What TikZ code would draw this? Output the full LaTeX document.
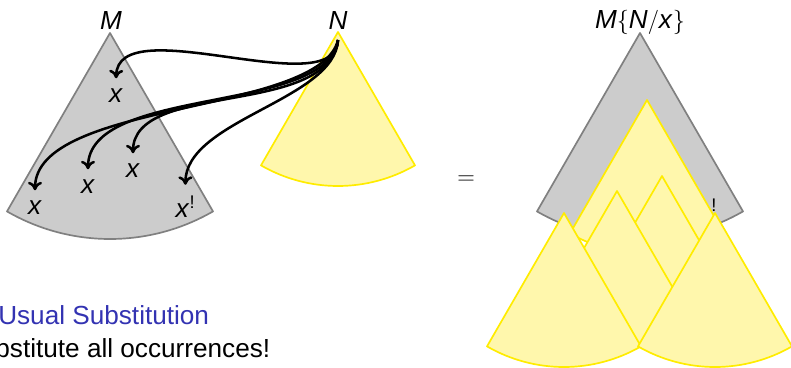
\documentclass[tikz,border=0pt]{standalone}
\usepackage{fontspec}
\setmainfont{Liberation Sans}
\usepackage{tikz}
\usetikzlibrary{arrows.meta}
\definecolor{termgray}{gray}{0.8}
\definecolor{termedge}{gray}{0.5}
\definecolor{argfill}{RGB}{255,247,172}
\definecolor{argedge}{RGB}{255,236,0}
\definecolor{structblue}{RGB}{51,51,178}

\begin{document}
\begin{tikzpicture}[x=0.025cm, y=-0.025cm,
    lbl/.style={font=\fontsize{18.6}{22}\selectfont, inner sep=0pt},
    msec/.style={fill=termgray, draw=termedge, line width=1.2pt, line join=round},
    nsec/.style={fill=argfill, draw=argedge, line width=1.2pt, line join=round},
    arr/.style={-{To[length=6pt, width=10pt]}, line width=1.8pt, shorten >=7.5pt},
]
    \useasboundingbox (0,0) rectangle (791,368);

    % Term M and argument N
    \path[msec] (110,33) -- ++(120:206) arc[start angle=120, end angle=60, radius=206] -- cycle;
    \path[nsec] (338,32) -- ++(120:154) arc[start angle=120, end angle=60, radius=154] -- cycle;
    \node[lbl] (mlab) at (111,21) {\textit{M}};
    \node[lbl] (nlab) at (338,21) {\textit{N}};
    \coordinate (nroot) at (338,40);

    % Occurrences of x
    \node[lbl] (x1) at (116,96) {\textit{x}};
    \node[lbl] (x2) at (133,171) {\textit{x}};
    \node[lbl] (x3) at (88,187) {\textit{x}};
    \node[lbl] (x4) at (35,208) {\textit{x}};
    \node[lbl, anchor=base] (x5) at (185.5,217) {\textit{x}\textsuperscript{!}};

    % Substitution arrows
    \draw[arr] (nroot) .. controls (336,105) and (117,8) .. (x1.north);
    \draw[arr] (nroot) .. controls (328,118) and (133,80) .. (x2.north);
    \draw[arr] (nroot) .. controls (328,115) and (88,85) .. (x3.north);
    \draw[arr] (nroot) .. controls (320,115) and (35,100) .. (x4.north);
    \draw[arr] (nroot) .. controls (335,100) and (185,120) .. (x5.north);

    \node[lbl] (eq) at (466,180) {$=$};

    % Result M{N/x}
    \node[lbl] (sublab) at (640,22) {\textit{M}$\{$\textit{N}$/$\textit{x}$\}$};
    \path[msec] (640,33) -- ++(120:206) arc[start angle=120, end angle=60, radius=206] -- cycle;
    \node[font=\fontsize{13}{15}\selectfont, inner sep=0pt] (bang) at (714,205) {!};
    \foreach \ax/\ay in {647/100, 662/176, 617/191, 564/213, 715/213}
        \path[nsec] (\ax,\ay) -- ++(120:154) arc[start angle=120, end angle=60, radius=154] -- cycle;

    % Caption
    \node[lbl, text=structblue, anchor=base west] (kind) at (-2,324) {Usual Substitution};
    \node[lbl, anchor=base east] (rule) at (270.5,357) {Substitute all occurrences!};
\end{tikzpicture}
\end{document}
